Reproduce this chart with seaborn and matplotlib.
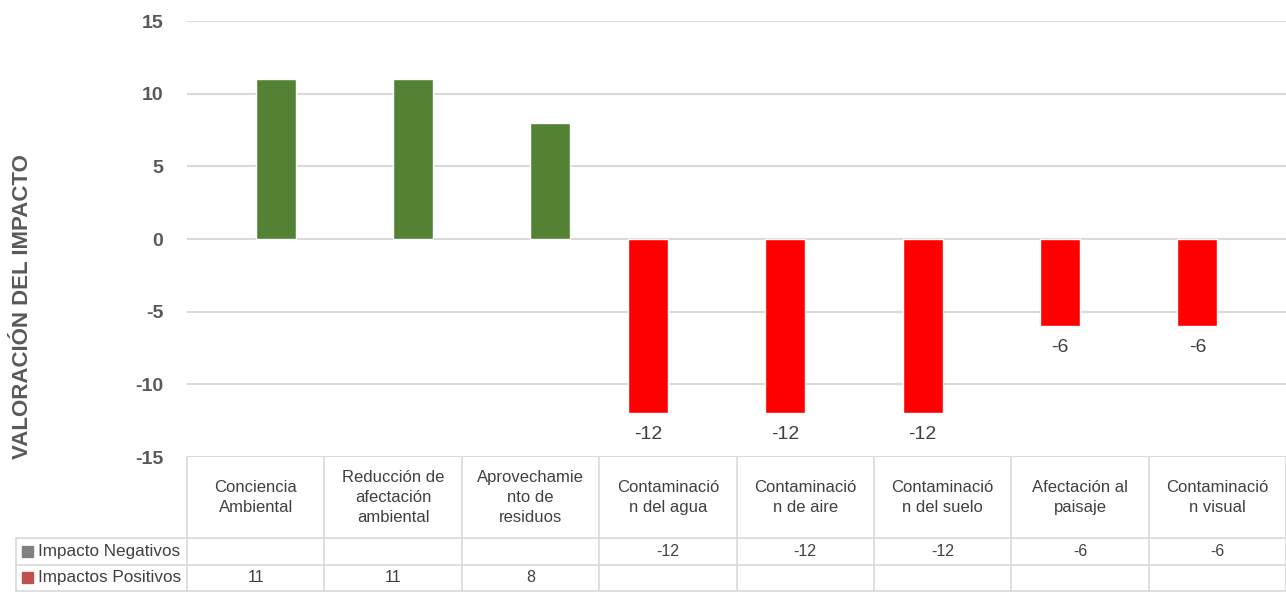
import pandas as pd
import numpy as np
import seaborn as sns
from matplotlib import pyplot as plt
from matplotlib import transforms
from matplotlib.lines import Line2D
from matplotlib.patches import Rectangle

sns.set_style("white")
plt.rcParams['font.family'] = ['Liberation Sans', 'DejaVu Sans']
plt.rcParams['axes.unicode_minus'] = False

# datos
categorias = ["Conciencia\nAmbiental", "Reducción de\nafectación\nambiental",
              "Aprovechamie\nnto de\nresiduos", "Contaminació\nn del agua",
              "Contaminació\nn de aire", "Contaminació\nn del suelo",
              "Afectación al\npaisaje", "Contaminació\nn visual"]
negativos = [np.nan, np.nan, np.nan, -12, -12, -12, -6, -6]
positivos = [11, 11, 8, np.nan, np.nan, np.nan, np.nan, np.nan]
series = ["Impacto Negativos", "Impactos Positivos"]
colores_barras = {"Impacto Negativos": "#FF0000", "Impactos Positivos": "#548235"}
colores_clave = {"Impacto Negativos": "#808080", "Impactos Positivos": "#C0504D"}

df = pd.DataFrame({
    "categoria": categorias * 2,
    "serie": [series[0]] * 8 + [series[1]] * 8,
    "valor": negativos + positivos,
}).dropna()

fig = plt.figure(figsize=(12.86, 5.92), dpi=100)
ax = fig.add_axes([187 / 1286, 1 - 457 / 592, 1 - 187 / 1286, (457 - 21) / 592])

sns.barplot(data=df, x="categoria", y="valor", hue="serie", order=categorias,
            hue_order=series, palette=colores_barras, width=0.582, dodge=True,
            saturation=1, legend=False, ax=ax)

# etiquetas solo en negativos
ax.bar_label(ax.containers[0], fmt="%g", padding=9, fontsize=14, color="#404040")

ax.set_ylim(-15, 15)
ax.set_xlim(-0.5, 7.5)
ax.set_yticks(range(-15, 16, 5))
ax.yaxis.grid(True, color="#D9D9D9", linewidth=1.5)
ax.set_axisbelow(True)
for s in ax.spines.values():
    s.set_visible(False)
ax.set_xticks([])
ax.set_xlabel("")
ax.tick_params(axis="y", length=0, pad=17, labelsize=14, labelcolor="#595959")
for t in ax.get_yticklabels():
    t.set_fontweight("bold")
ax.set_ylabel("VALORACIÓN DEL IMPACTO", fontsize=16, fontweight="bold",
              color="#595959")
ax.yaxis.set_label_coords(-0.14, 0.346)

# tabla de datos
grid_c = "#D9D9D9"
txt_c = "#404040"
blend = transforms.blended_transform_factory(ax.transData, fig.transFigure)
y_top = 1 - 457 / 592
y_h = 1 - 538 / 592
y_r = 1 - 565 / 592
y_b = 0.002
x0 = 16 / 1286

for k in range(9):
    fig.add_artist(Line2D([k - 0.5, k - 0.5], [y_top, 0], transform=blend,
                          color=grid_c, linewidth=1.2))
for yy in [y_h, y_r, y_b]:
    fig.add_artist(Line2D([x0, 1], [yy, yy], transform=fig.transFigure,
                          color=grid_c, linewidth=1.2))
fig.add_artist(Line2D([x0, x0], [y_h, 0], transform=fig.transFigure,
                      color=grid_c, linewidth=1.2))

for i, c in enumerate(categorias):
    fig.text(i, (y_top + y_h) / 2, c, transform=blend, ha="center", va="center",
             fontsize=12, color=txt_c, linespacing=1.45)
    if not np.isnan(negativos[i]):
        fig.text(i, (y_h + y_r) / 2, f"{negativos[i]:g}", transform=blend,
                 ha="center", va="center", fontsize=11.5, color=txt_c)
    if not np.isnan(positivos[i]):
        fig.text(i, (y_r + y_b) / 2, f"{positivos[i]:g}", transform=blend,
                 ha="center", va="center", fontsize=11.5, color=txt_c)

for nombre, (ya, yb) in zip(series, [(y_h, y_r), (y_r, y_b)]):
    yc = (ya + yb) / 2
    fig.add_artist(Rectangle((22 / 1286, yc - 5.5 / 592), 11 / 1286, 11 / 592,
                             transform=fig.transFigure, color=colores_clave[nombre]))
    fig.text(38 / 1286, yc, nombre, ha="left", va="center", fontsize=12.3, color=txt_c)

plt.savefig("out.png", dpi=100)
